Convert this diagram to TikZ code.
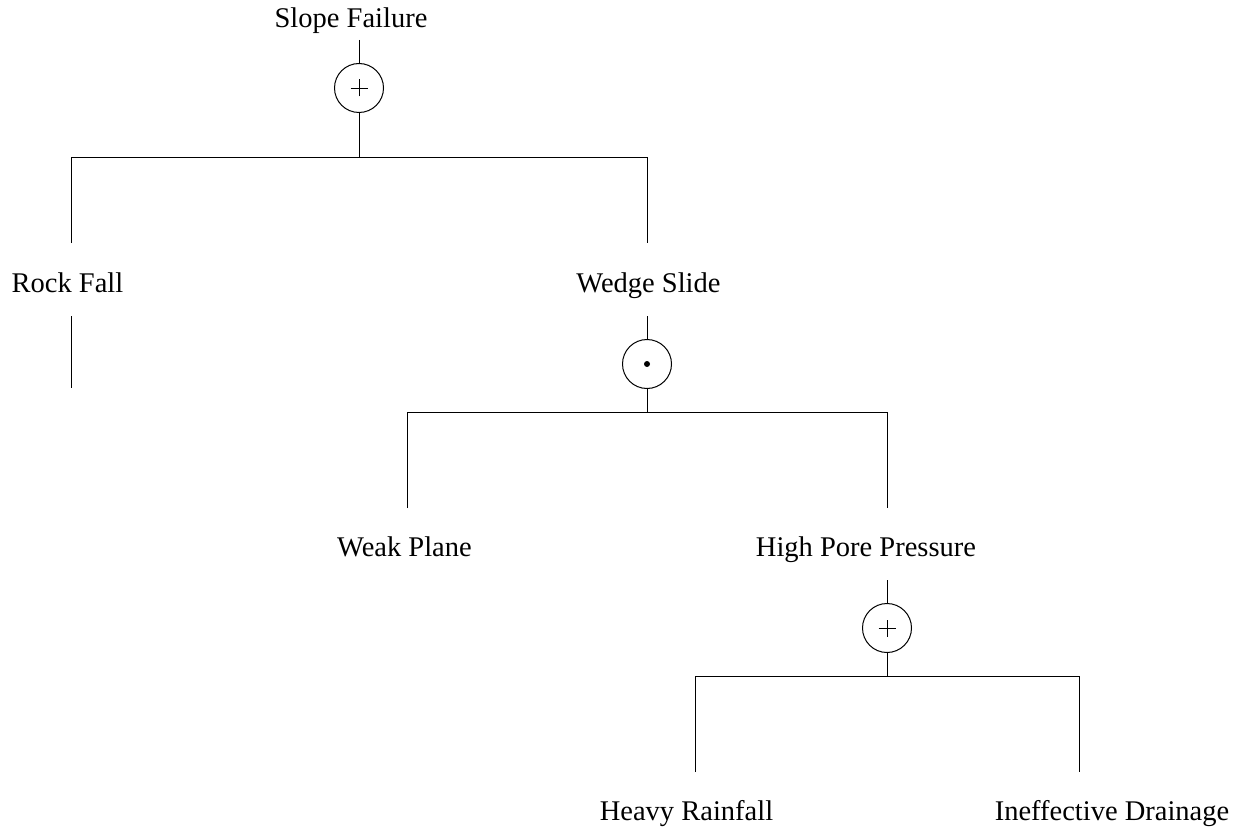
\documentclass[tikz,border=0pt]{standalone}
\usepackage{fontspec}
\setmainfont{Liberation Serif}
\begin{document}
\begin{tikzpicture}[x=1pt,y=-1pt,
  line width=1pt,
  every node/.style={font=\fontsize{28.5}{34}\selectfont},
  event/.style={anchor=base, inner sep=0pt},
  gate/.style={draw, circle, minimum size=49pt, inner sep=0pt},
  link/.style={draw, line width=1pt},
  sign/.style={draw, line width=0.9pt}]
\useasboundingbox (0,0) rectangle (1244,829);

% event labels
\node[event] (sf)  at (351,28)    {Slope Failure};
\node[event] (rf)  at (67.5,292)  {Rock Fall};
\node[event] (ws)  at (648.5,292) {Wedge Slide};
\node[event] (wp)  at (404.5,556) {Weak Plane};
\node[event] (hpp) at (866,556)   {High Pore Pressure};
\node[event] (hr)  at (686.5,820) {Heavy Rainfall};
\node[event] (id)  at (1112,820)  {Ineffective Drainage};

% gates: OR (plus) and AND (dot)
\node[gate] (g1) at (359,88)  {};
\draw[sign] ([xshift=-8.5pt]g1.center) -- ([xshift=8.5pt]g1.center)
            ([yshift=-8.5pt]g1.center) -- ([yshift=8.5pt]g1.center);
\node[gate] (g2) at (647,364) {};
\fill (g2.center) circle (3pt);
\node[gate] (g3) at (887,628) {};
\draw[sign] ([xshift=-8.5pt]g3.center) -- ([xshift=8.5pt]g3.center)
            ([yshift=-8.5pt]g3.center) -- ([yshift=8.5pt]g3.center);

% connector end points
\coordinate (sf-o) at (359,40);
\coordinate (j1)  at (359,158);
\coordinate (j1l) at (71,158);
\coordinate (j1r) at (647,158);
\coordinate (rf-i) at (71,243);
\coordinate (rf-o) at (71,316);
\coordinate (rf-e) at (71,388);
\coordinate (ws-i) at (647,243);
\coordinate (ws-o) at (647,316);
\coordinate (j2)  at (647,412);
\coordinate (j2l) at (407,412);
\coordinate (j2r) at (887,412);
\coordinate (wp-i) at (407,508);
\coordinate (hpp-i) at (887,508);
\coordinate (hpp-o) at (887,580);
\coordinate (j3)  at (887,676);
\coordinate (j3l) at (695,676);
\coordinate (j3r) at (1079,676);
\coordinate (hr-i) at (695,772);
\coordinate (id-i) at (1079,772);

% Slope Failure: OR gate
\draw[link] (sf-o) -- (g1.north);
\draw[link] (g1.south) -- (j1);
\draw[link] (rf-i) -- (j1l) -- (j1r) -- (ws-i);
\draw[link] (rf-o) -- (rf-e);

% Wedge Slide: AND gate
\draw[link] (ws-o) -- (g2.north);
\draw[link] (g2.south) -- (j2);
\draw[link] (wp-i) -- (j2l) -- (j2r) -- (hpp-i);

% High Pore Pressure: OR gate
\draw[link] (hpp-o) -- (g3.north);
\draw[link] (g3.south) -- (j3);
\draw[link] (hr-i) -- (j3l) -- (j3r) -- (id-i);
\end{tikzpicture}
\end{document}
